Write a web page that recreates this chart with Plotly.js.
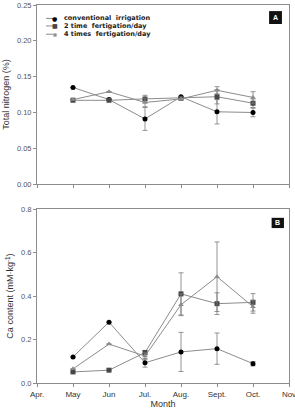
<!DOCTYPE html>
<html><head><meta charset="utf-8">
<script src="https://cdn.plot.ly/plotly-3.0.1.min.js"></script>
<style>html,body{margin:0;padding:0;background:#fff}#c{width:295px;height:409px}</style>
</head><body><div id="c"></div>
<script>
const axisMonths = ["Apr.","May","Jun","Jul.","Aug.","Sept.","Oct.","Nov"];
const months = ["May","Jun","Jul.","Aug.","Sept.","Oct."];
const seriesNames = ["conventional  irrigation","2 time  fertigation/day","4 times  fertigation/day"];

// Panel A: Total nitrogen (%)
const nConv = [0.135,0.118,0.091,0.122,0.101,0.100];
const nConvErr = [0,0,0.016,0,0.017,0.006];
const n2 = [0.117,0.117,0.119,0.120,0.122,0.113];
const n2Err = [0,0,0.005,0,0.010,0.006];
const n4 = [0.118,0.129,0.114,0.119,0.131,0.121];
const n4Err = [0,0,0.006,0,0.005,0.008];

// Panel B: Ca content (mM·kg-1)
const caConv = [0.120,0.280,0.093,0.143,0.158,0.089];
const caConvErr = [0,0,0.020,0.090,0.072,0.010];
const ca2 = [0.051,0.059,0.140,0.410,0.365,0.371];
const ca2Err = [0,0,0.010,0.097,0.050,0.040];
const ca4 = [0.065,0.179,0.124,0.360,0.489,0.351];
const ca4Err = [0,0,0.015,0.050,0.160,0.030];

const markerColors = ["#000000","#474747","#8a8a8a"];
const symbols = ["circle","square","triangle-up"];
const glyphs = ["●","■","▲"];
const lineColor = "#8c8c8c";

function tr(y, err, i, xa, ya){
  return {x: months, y: y, xaxis: xa, yaxis: ya, type:"scatter", mode:"lines+markers",
    name: seriesNames[i], showlegend:false,
    line:{color:lineColor, width:1},
    marker:{color:markerColors[i], symbol:symbols[i], size:5},
    error_y:{type:"data", array: err, visible:true, color:"#7a7a7a", thickness:0.8, width:2.5}};
}
const data = [
  tr(nConv,nConvErr,0,"x","y"), tr(n2,n2Err,1,"x","y"), tr(n4,n4Err,2,"x","y"),
  tr(caConv,caConvErr,0,"x2","y2"), tr(ca2,ca2Err,1,"x2","y2"), tr(ca4,ca4Err,2,"x2","y2")
];
const tickFont = {family:"Liberation Sans, Arial", size:8, color:"#333"};
const tickFontA = {family:"Liberation Sans, Arial", size:7.5, color:"#555"};
const titleFont = {family:"Liberation Sans, Arial", size:9, color:"#333"};
const xbase = {type:"category", categoryorder:"array", categoryarray: axisMonths, range:[0,7],
  showgrid:false, zeroline:false, showline:true, linecolor:"#8c8c8c", linewidth:1, mirror:true,
  ticks:"outside", ticklen:3, tickcolor:"#8c8c8c", tickfont: tickFont};

// manual compact legend (decoration in y-domain coords of panel A)
const legRows = [0.925, 0.883, 0.837];
const shapes = [];
const annotations = [];
seriesNames.forEach((nm, i) => {
  shapes.push({type:"line", xref:"x domain", yref:"y domain", x0:0.036, x1:0.080, y0:legRows[i], y1:legRows[i],
    line:{color:lineColor, width:1}});
  annotations.push({xref:"x domain", yref:"y domain", x:0.071, y:legRows[i], xanchor:"center", yanchor:"middle",
    text:glyphs[i], showarrow:false, font:{family:"DejaVu Sans", size:i===2?5:6, color:markerColors[i]}});
  annotations.push({xref:"x domain", yref:"y domain", x:0.098, y:legRows[i], xanchor:"left", yanchor:"middle",
    text:"<b>"+nm.replace(/  /g,"&nbsp; ")+"</b>", showarrow:false,
    font:{family:"DejaVu Sans", size:6.5, color:"#222"}});
});
// panel letter boxes
shapes.push({type:"rect", xref:"x domain", yref:"y domain", x0:0.921, x1:0.972, y0:0.894, y1:0.966,
  fillcolor:"#111", line:{width:0}});
shapes.push({type:"rect", xref:"x2 domain", yref:"y2 domain", x0:0.931, x1:0.98, y0:0.891, y1:0.95,
  fillcolor:"#111", line:{width:0}});
annotations.push({xref:"x domain", yref:"y domain", x:0.9465, y:0.930, xanchor:"center", yanchor:"middle", text:"<b>A</b>", showarrow:false,
  font:{family:"Liberation Sans, Arial", size:7, color:"#fff"}});
annotations.push({xref:"x2 domain", yref:"y2 domain", x:0.9555, y:0.9205, xanchor:"center", yanchor:"middle", text:"<b>B</b>", showarrow:false,
  font:{family:"Liberation Sans, Arial", size:7, color:"#fff"}});

const layout = {
  width:295, height:409, margin:{l:37,r:6,t:5,b:26},
  paper_bgcolor:"#fff", plot_bgcolor:"#fff",
  showlegend:false,
  xaxis: Object.assign({}, xbase, {anchor:"y", showticklabels:false}),
  xaxis2: Object.assign({}, xbase, {anchor:"y2", showticklabels:true,
    title:{text:"Month", font:titleFont, standoff:5}}),
  yaxis:{domain:[0.526,1], range:[0,0.25], tickvals:[0,0.05,0.10,0.15,0.20,0.25], tickformat:".2f",
    showgrid:false, zeroline:false, showline:true, linecolor:"#8c8c8c", mirror:true,
    ticks:"outside", ticklen:3, tickcolor:"#8c8c8c", tickfont:tickFontA,
    title:{text:"Total nitrogen (%)", font:titleFont, standoff:5}},
  yaxis2:{domain:[0,0.46], range:[0,0.8], tickvals:[0,0.2,0.4,0.6,0.8], tickformat:".1f", anchor:"x2",
    showgrid:false, zeroline:false, showline:true, linecolor:"#8c8c8c", mirror:true,
    ticks:"outside", ticklen:3, tickcolor:"#8c8c8c", tickfont:tickFontA,
    title:{text:"Ca content (mM·kg<sup>-1</sup>)", font:titleFont, standoff:5}},
  shapes: shapes,
  annotations: annotations
};
Plotly.newPlot("c", data, layout, {staticPlot:true, displayModeBar:false});
</script></body></html>
